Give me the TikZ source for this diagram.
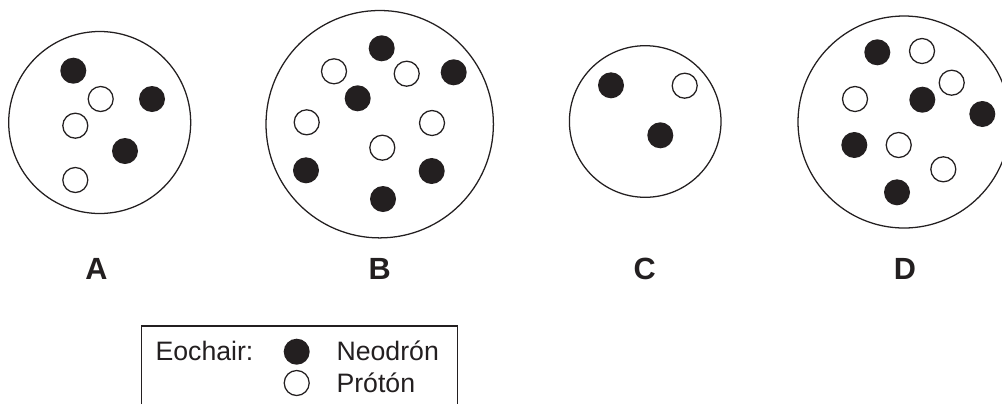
\documentclass[tikz,border=0pt]{standalone}
\usepackage{fontspec}
\setmainfont{Liberation Sans}
\definecolor{ink}{HTML}{231F20}
\tikzset{
  atom/.style={circle,draw=ink,line width=0.95pt,fill=white,inner sep=0pt,outer sep=0pt,minimum size=#1*0.75pt},
  nucleon/.style={atom=25},
  neutron/.style={circle,fill=ink,draw=none,inner sep=0pt,outer sep=0pt,minimum size=19.5pt},
  proton/.style={nucleon},
  letter/.style={text=ink,anchor=base,inner sep=0pt,font=\bfseries\fontsize{23}{27}\selectfont},
  legendtext/.style={text=ink,anchor=base west,inner sep=0pt,font=\fontsize{20}{24}\selectfont},
  frameline/.style={draw=ink,line width=0.8pt}
}
\begin{document}
\begin{tikzpicture}[x=0.75pt,y=-0.75pt]
\useasboundingbox (0,0) rectangle (1002,404);
% outer circles
\node[atom=182] (atomA) at (99.7,122.5) {};
\node[atom=227.4] (atomB) at (379.7,124.2) {};
\node[atom=151.6] (atomC) at (645.2,121.5) {};
\node[atom=212] (atomD) at (904,122) {};
% A
\node[neutron] (a1) at (73.3,70.7) {};
\node[neutron] (a2) at (152,99) {};
\node[neutron] (a3) at (125,151) {};
\node[proton] (a4) at (100.7,99) {};
\node[proton] (a5) at (75.3,125.7) {};
\node[proton] (a6) at (75.3,180) {};
% B
\node[neutron] (b1) at (381.7,48.3) {};
\node[neutron] (b2) at (453.7,72.3) {};
\node[neutron] (b3) at (357.7,98.3) {};
\node[neutron] (b4) at (306,170.3) {};
\node[neutron] (b5) at (431.7,171) {};
\node[neutron] (b6) at (383,199) {};
\node[proton] (b7) at (334,71.3) {};
\node[proton] (b8) at (406.7,73.7) {};
\node[proton] (b9) at (306.7,122.3) {};
\node[proton] (b10) at (432,123) {};
\node[proton] (b11) at (382.3,147.7) {};
% C
\node[neutron] (c1) at (611,85.3) {};
\node[neutron] (c2) at (660.3,135.3) {};
\node[proton] (c3) at (684.7,85.7) {};
% D
\node[neutron] (d1) at (877.3,52.3) {};
\node[neutron] (d2) at (922.3,99.7) {};
\node[neutron] (d3) at (982.3,114) {};
\node[neutron] (d4) at (854.3,145) {};
\node[neutron] (d5) at (897,192.3) {};
\node[proton] (d6) at (922,51) {};
\node[proton] (d7) at (951.7,82.7) {};
\node[proton] (d8) at (855,99) {};
\node[proton] (d9) at (898.7,145) {};
\node[proton] (d10) at (943.3,169.3) {};
% letters
\node[letter] (la) at (96.5,279) {A};
\node[letter] (lb) at (379.7,279) {B};
\node[letter] (lc) at (644.8,279) {C};
\node[letter] (ld) at (905,279) {D};
% legend
\coordinate (fbl) at (141.3,404);
\coordinate (ftl) at (141.3,326);
\coordinate (ftr) at (457.3,326);
\coordinate (fbr) at (457.3,404);
\draw[frameline] (fbl) -- (ftl) -- (ftr) -- (fbr);
\node[legendtext] (lk) at (155.3,360) {Eochair:};
\node[neutron] (kn) at (296.7,351.7) {};
\node[proton] (kp) at (296.7,383) {};
\node[legendtext] (tn) at (336.3,360) {Neodrón};
\node[legendtext] (tp) at (336.3,392.3) {Prótón};
\end{tikzpicture}
\end{document}
